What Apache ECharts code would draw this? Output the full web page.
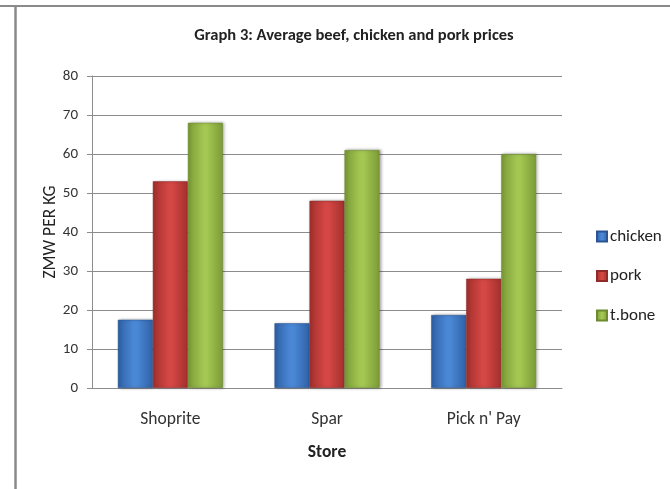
<!DOCTYPE html>
<html>
<head>
<meta charset="utf-8">
<script src="https://cdn.jsdelivr.net/npm/echarts@6/dist/echarts.min.js"></script>
<style>
html,body{margin:0;padding:0;background:#fff;}
#chart{width:670px;height:489px;}
</style>
</head>
<body>
<div id="chart"></div>
<script>
const categories = ['Shoprite', 'Spar', "Pick n' Pay"];
const chicken = [17.5, 16.6, 18.7];
const pork = [53, 48, 28];
const tbone = [68, 61, 60];
const yTicks = [0, 10, 20, 30, 40, 50, 60, 70, 80];

const FONT = "Carlito, 'Liberation Sans Narrow', 'DejaVu Sans Condensed', sans-serif";

function grad(edge, mid) {
  return new echarts.graphic.LinearGradient(0, 0, 1, 0, [
    {offset: 0, color: edge},
    {offset: 0.45, color: mid},
    {offset: 0.55, color: mid},
    {offset: 1, color: edge}
  ]);
}

const chart = echarts.init(document.getElementById('chart'), null, {renderer: 'canvas'});
const option = {
  animation: false,
  backgroundColor: '#fff',
  textStyle: {fontFamily: FONT},
  title: {
    text: 'Graph 3: Average beef, chicken and pork prices',
    left: 349, top: 22, textAlign: 'center',
    textStyle: {fontFamily: FONT, fontSize: 16.5, fontWeight: 'bold', color: '#222'}
  },
  graphic: [
    {type: 'line', shape: {x1: 0, y1: 6, x2: 670, y2: 6}, style: {stroke: '#8a8a8a', lineWidth: 2}},
    {type: 'line', shape: {x1: 15.5, y1: 5, x2: 15.5, y2: 489}, style: {stroke: '#8a8a8a', lineWidth: 2.5}}
  ],
  legend: {
    orient: 'vertical',
    left: 591, top: 223,
    itemWidth: 10, itemHeight: 10, itemGap: 22.5,
    icon: 'rect',
    textStyle: {fontFamily: FONT, fontSize: 17, color: '#222', padding: [0, 0, 0, -2]},
    data: ['chicken', 'pork', 't.bone']
  },
  grid: {left: 92, right: 108, top: 76, bottom: 101, containLabel: false},
  xAxis: {
    type: 'category',
    data: categories,
    name: 'Store',
    nameLocation: 'middle',
    nameGap: 56,
    nameTextStyle: {fontFamily: FONT, fontSize: 17.5, fontWeight: 'bold', color: '#222'},
    axisLine: {lineStyle: {color: '#8c8c8c', width: 1}},
    axisTick: {show: false},
    axisLabel: {fontFamily: FONT, fontSize: 17.5, color: '#333', margin: 23}
  },
  yAxis: {
    type: 'value',
    min: 0, max: 80, interval: 10,
    name: 'ZMW PER KG',
    nameLocation: 'middle',
    nameGap: 32,
    nameMoveOverlap: false,
    nameTextStyle: {fontFamily: FONT, fontSize: 17.5, color: '#222'},
    axisLine: {show: true, lineStyle: {color: '#8c8c8c', width: 1}},
    axisTick: {show: true, length: 5, lineStyle: {color: '#8c8c8c'}},
    axisLabel: {fontFamily: FONT, fontSize: 15, color: '#333', margin: 14,
      formatter: v => yTicks.includes(v) ? String(v) : ''},
    splitLine: {lineStyle: {color: '#8c8c8c', width: 1}}
  },
  series: [
    {name: 'chicken', type: 'bar', data: chicken, barGap: '0%', barCategoryGap: '33%',
      itemStyle: {color: grad('#2f61a6', '#4a88d6'), borderColor: '#2b5592', borderWidth: 0.5,
        shadowColor: 'rgba(0,0,0,0.35)', shadowBlur: 3, shadowOffsetX: 1.5, shadowOffsetY: 0}},
    {name: 'pork', type: 'bar', data: pork,
      itemStyle: {color: grad('#a3302d', '#d44744'), borderColor: '#8f2b29', borderWidth: 0.5,
        shadowColor: 'rgba(0,0,0,0.35)', shadowBlur: 3, shadowOffsetX: 1.5, shadowOffsetY: 0}},
    {name: 't.bone', type: 'bar', data: tbone,
      itemStyle: {color: grad('#7c9b37', '#a3c752'), borderColor: '#6d8a30', borderWidth: 0.5,
        shadowColor: 'rgba(0,0,0,0.35)', shadowBlur: 3, shadowOffsetX: 1.5, shadowOffsetY: 0}}
  ]
};
chart.setOption(option);
</script>
</body>
</html>
